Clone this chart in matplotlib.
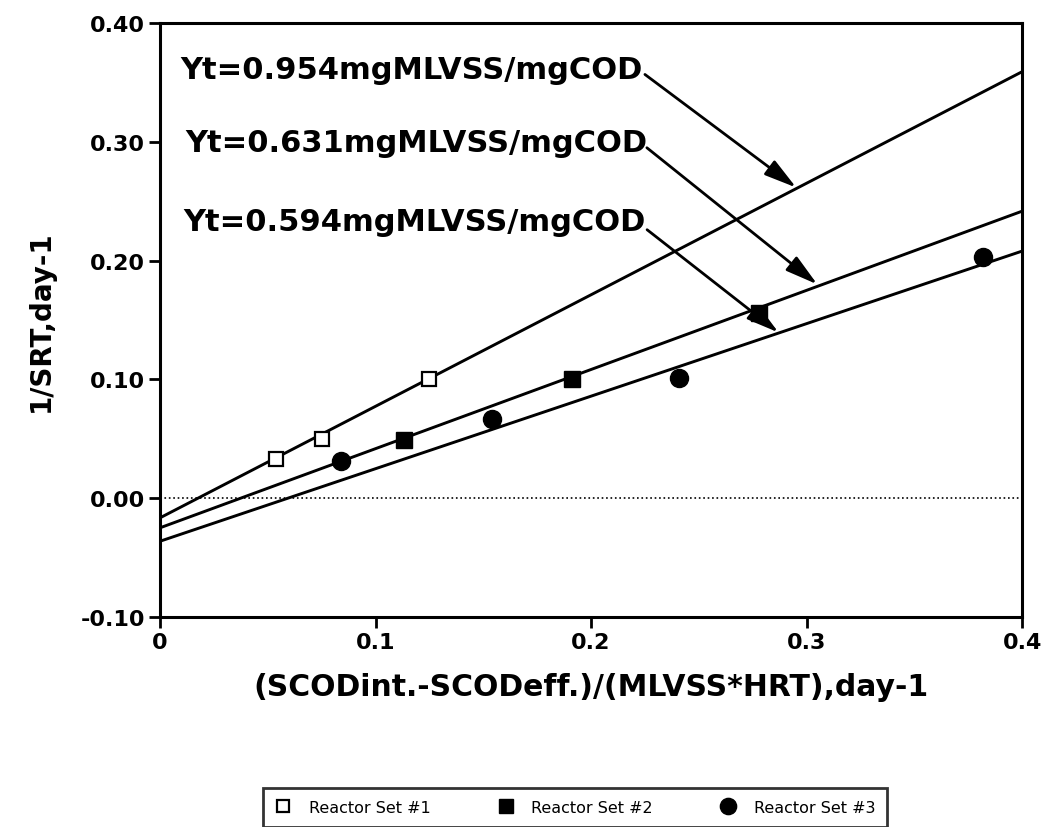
import matplotlib
matplotlib.use('Agg')
import matplotlib.pyplot as plt

matplotlib.rcParams.update({
    'font.family': 'DejaVu Sans',
    'font.weight': 'bold',
    'axes.linewidth': 2.2,
})

# Reactor set data points
set1_x = [0.054, 0.075, 0.125]
set1_y = [0.033, 0.050, 0.100]
set2_x = [0.113, 0.191, 0.278]
set2_y = [0.049, 0.100, 0.156]
set3_x = [0.084, 0.154, 0.241, 0.382]
set3_y = [0.031, 0.067, 0.101, 0.203]

# fitted lines, end points at x=0 and x=0.4
fit_x = [0.0, 0.4]
fit1_y = [-0.0165, 0.359]
fit2_y = [-0.0249, 0.2416]
fit3_y = [-0.0362, 0.208]

yt_labels = ['Yt=0.954mgMLVSS/mgCOD', 'Yt=0.631mgMLVSS/mgCOD',
             'Yt=0.594mgMLVSS/mgCOD']

x_ticks = [0, 0.1, 0.2, 0.3, 0.4]
x_ticklabels = ['0', '0.1', '0.2', '0.3', '0.4']
y_ticks = [-0.10, 0.00, 0.10, 0.20, 0.30, 0.40]
y_ticklabels = ['-0.10', '0.00', '0.10', '0.20', '0.30', '0.40']

fig = plt.figure(figsize=(10.44, 8.28), dpi=100)
ax = fig.add_axes([0.1533, 0.2536, 0.8257, 0.7174])

ax.axhline(0, color='black', linestyle=':', linewidth=1.2, zorder=1)

for fy in (fit1_y, fit2_y, fit3_y):
    ax.plot(fit_x, fy, color='black', linewidth=2.1, zorder=2)

h1, = ax.plot(set1_x, set1_y, 's', markersize=10, markerfacecolor='white',
              markeredgecolor='black', markeredgewidth=1.6, zorder=3,
              label='Reactor Set #1')
h2, = ax.plot(set2_x, set2_y, 's', markersize=11, color='black', zorder=3,
              label='Reactor Set #2')
h3, = ax.plot(set3_x, set3_y, 'o', markersize=13, color='black', zorder=3,
              label='Reactor Set #3')

# Yt labels with arrows pointing at each fitted line
text_pos = [(0.0093, 0.354), (0.0116, 0.292), (0.0106, 0.226)]
arrow_from = [(0.225, 0.3567), (0.2259, 0.295), (0.226, 0.226)]
arrow_to = [(0.2952, 0.2615), (0.305, 0.180), (0.287, 0.1395)]
for lab, tp, a0, a1 in zip(yt_labels, text_pos, arrow_from, arrow_to):
    ax.text(tp[0], tp[1], lab, fontsize=22, fontweight='bold',
            ha='left', va='baseline')
    ax.annotate('', xy=a1, xytext=a0,
                arrowprops=dict(arrowstyle='-|>,head_length=1.1,head_width=0.3',
                                mutation_scale=18, lw=2, color='black',
                                shrinkA=0, shrinkB=0))

ax.set_xlim(0, 0.4)
ax.set_ylim(-0.10, 0.40)
ax.set_xticks(x_ticks)
ax.set_xticklabels(x_ticklabels)
ax.set_yticks(y_ticks)
ax.set_yticklabels(y_ticklabels)
ax.tick_params(direction='out', length=8, width=2, labelsize=16, pad=3)

ax.set_xlabel('(SCODint.-SCODeff.)/(MLVSS*HRT),day-1', fontsize=21.5,
              fontweight='bold', labelpad=14)
ax.set_ylabel('1/SRT,day-1', fontsize=20, fontweight='bold', labelpad=18)

leg = fig.legend(handles=[h1, h2, h3], loc='upper center',
                 bbox_to_anchor=(0.551, 1 - 781 / 828), ncol=3,
                 prop={'size': 11.5, 'weight': 'normal'}, frameon=True,
                 fancybox=False, edgecolor='black', borderpad=0.75,
                 handlelength=1.0, handletextpad=1.1, columnspacing=4.2,
                 markerscale=0.9)
leg.get_frame().set_linewidth(2)

fig.savefig('out.png', dpi=100)
